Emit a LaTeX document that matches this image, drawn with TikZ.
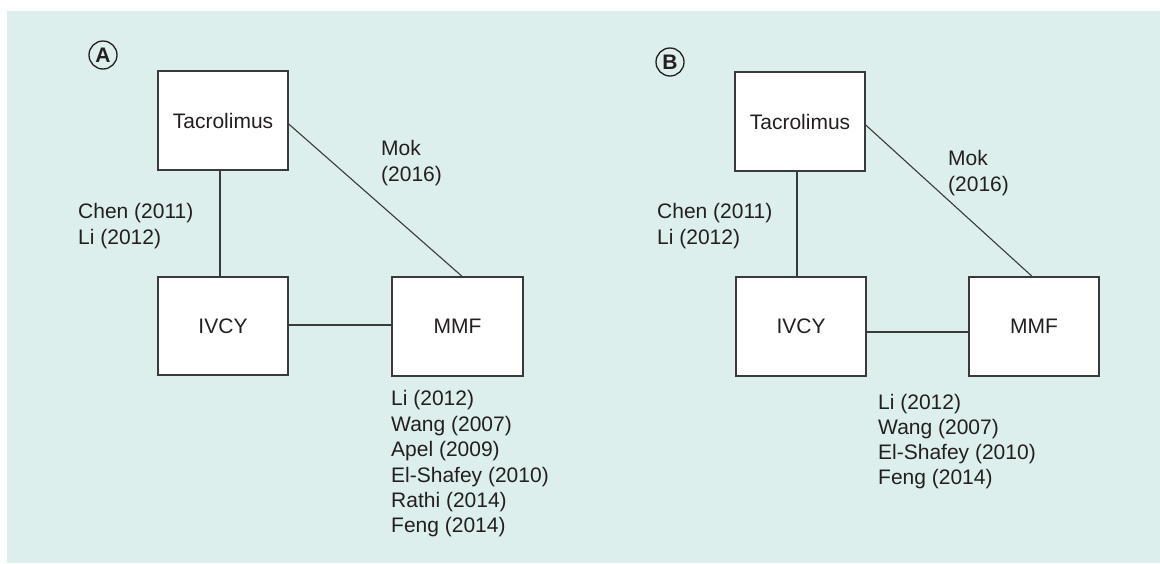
\documentclass[tikz,border=0pt]{standalone}
\usepackage{fontspec}
\setmainfont{Liberation Sans}
\definecolor{bgteal}{HTML}{DCEFED}
\definecolor{ink}{HTML}{231F20}
\definecolor{edge}{HTML}{3A3A3A}
\begin{document}
\begin{tikzpicture}[x=1pt,y=-1pt,
  box/.style={draw=edge,line width=1.4pt,fill=white,inner sep=0pt,text=ink,font=\fontsize{21}{25}\selectfont},
  conn/.style={draw=edge,line width=1.1pt},
  ref/.style={anchor=base west,inner sep=0pt,text=ink,font=\fontsize{21}{25}\selectfont},
  panel/.style={circle,draw=ink,line width=1.3pt,minimum size=28pt,inner sep=0pt,text=ink,font=\fontsize{21}{24}\selectfont\bfseries}]
\useasboundingbox (0,0) rectangle (1160,563);
\fill[white] (0,0) rectangle (1160,563);
\fill[bgteal] (7,11) rectangle (1160,563);

% ---------- Panel A ----------
\node[panel] (labA) at (103,55) {A};
\node[box,minimum width=130pt,minimum height=99pt] (tacA) at (223,120.5) {Tacrolimus};
\node[box,minimum width=130pt,minimum height=98pt] (ivA) at (223,326) {IVCY};
\node[box,minimum width=131pt,minimum height=99pt] (mmfA) at (457.5,326.5) {MMF};
\draw[conn] (tacA.south -| 220,0) -- (ivA.north -| 220,0);
\draw[conn] (ivA.east |- 0,325) -- (mmfA.west |- 0,325);
\draw[conn] (tacA.east |- 0,124) -- (mmfA.north -| 462,0);
\node[ref] (chenA) at (78,218) {Chen (2011)};
\node[ref] (liA) at (78,244) {Li (2012)};
\node[ref] (mokA1) at (381,155) {Mok};
\node[ref] (mokA2) at (381,181) {(2016)};
\node[ref] (lA1) at (391,405.5) {Li (2012)};
\node[ref] (lA2) at (391,431) {Wang (2007)};
\node[ref] (lA3) at (391,456.5) {Apel (2009)};
\node[ref] (lA4) at (391,482) {El-Shafey (2010)};
\node[ref] (lA5) at (391,507) {Rathi (2014)};
\node[ref] (lA6) at (391,532.5) {Feng (2014)};

% ---------- Panel B ----------
\node[panel] (labB) at (670,62) {B};
\node[box,minimum width=130pt,minimum height=99pt] (tacB) at (800,121.5) {Tacrolimus};
\node[box,minimum width=130pt,minimum height=99pt] (ivB) at (801,326.5) {IVCY};
\node[box,minimum width=130pt,minimum height=99pt] (mmfB) at (1034,326.5) {MMF};
\draw[conn] (tacB.south -| 797,0) -- (ivB.north -| 797,0);
\draw[conn] (ivB.east |- 0,332) -- (mmfB.west |- 0,332);
\draw[conn] (tacB.east |- 0,125) -- (mmfB.north -| 1032,0);
\node[ref] (chenB) at (657,218) {Chen (2011)};
\node[ref] (liB) at (657,244) {Li (2012)};
\node[ref] (mokB1) at (948,165) {Mok};
\node[ref] (mokB2) at (948,191) {(2016)};
\node[ref] (lB1) at (878,409.5) {Li (2012)};
\node[ref] (lB2) at (878,434.5) {Wang (2007)};
\node[ref] (lB3) at (878,459.5) {El-Shafey (2010)};
\node[ref] (lB4) at (878,484.5) {Feng (2014)};
\end{tikzpicture}
\end{document}
